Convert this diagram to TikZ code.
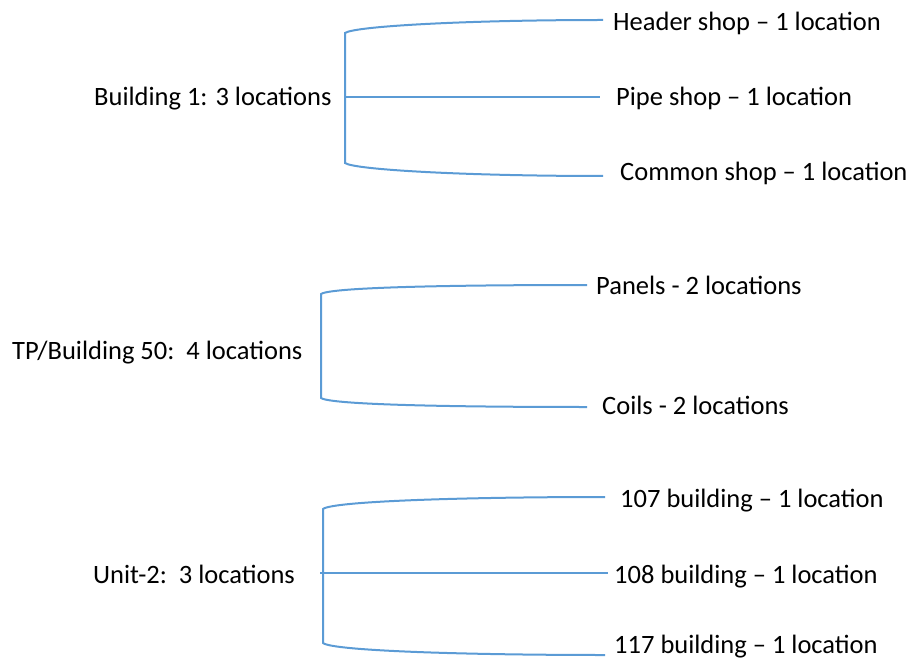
\documentclass[tikz,border=0pt]{standalone}
\usepackage{fontspec}
\setmainfont{Carlito}
\definecolor{brk}{HTML}{5B9BD5}
\tikzset{
  lbl/.style={anchor=base west, inner sep=0pt, font=\fontsize{26.5}{30}\selectfont, text=black},
  brline/.style={draw=brk, line width=2pt},
}
\begin{document}
\begin{tikzpicture}[x=1pt,y=-1pt]
\useasboundingbox (0,0) rectangle (909,660);
% Group 1
\node[lbl] (b1) at (94,106) {Building 1: 3 locations};
\node[lbl] (h1) at (613,31) {Header shop – 1 location};
\node[lbl] (p1) at (616,106) {Pipe shop – 1 location};
\node[lbl] (c1) at (620,181) {Common shop – 1 location};
\coordinate (t1) at (345,33);
\coordinate (m1) at (345,97);
\coordinate (u1) at (345,163);
\coordinate (e1a) at (603,20);
\coordinate (e1b) at (600,97);
\coordinate (e1c) at (603,176);
\draw[brline] (e1a) .. controls (470,20) and (355,26) .. (t1) -- (u1) .. controls (355,170) and (470,176) .. (e1c);
\draw[brline] (m1) -- (e1b);
% Group 2
\node[lbl] (b2) at (12,359) {TP/Building 50:\ \ 4 locations};
\node[lbl] (p2) at (596,294) {Panels - 2 locations};
\node[lbl] (c2) at (602,414) {Coils - 2 locations};
\coordinate (t2) at (321,294);
\coordinate (u2) at (321,398);
\coordinate (e2a) at (587,285);
\coordinate (e2b) at (587,407);
\draw[brline] (e2a) .. controls (460,285) and (331,287) .. (t2) -- (u2) .. controls (331,405) and (460,407) .. (e2b);
% Group 3
\node[lbl] (b3) at (93,583) {Unit-2:\ \ 3 locations};
\node[lbl] (a3) at (620,507) {107 building – 1 location};
\node[lbl] (m3) at (614,583) {108 building – 1 location};
\node[lbl] (z3) at (614,653.5) {117 building – 1 location};
\coordinate (t3) at (323,509);
\coordinate (mm3) at (323,573);
\coordinate (u3) at (323,643);
\coordinate (s3) at (320,573);
\coordinate (e3a) at (605,497);
\coordinate (e3b) at (608,573);
\coordinate (e3c) at (605,655);
\draw[brline] (e3a) .. controls (470,497) and (333,501) .. (t3) -- (u3) .. controls (333,651) and (470,655) .. (e3c);
\draw[brline] (s3) -- (e3b);
\end{tikzpicture}
\end{document}
